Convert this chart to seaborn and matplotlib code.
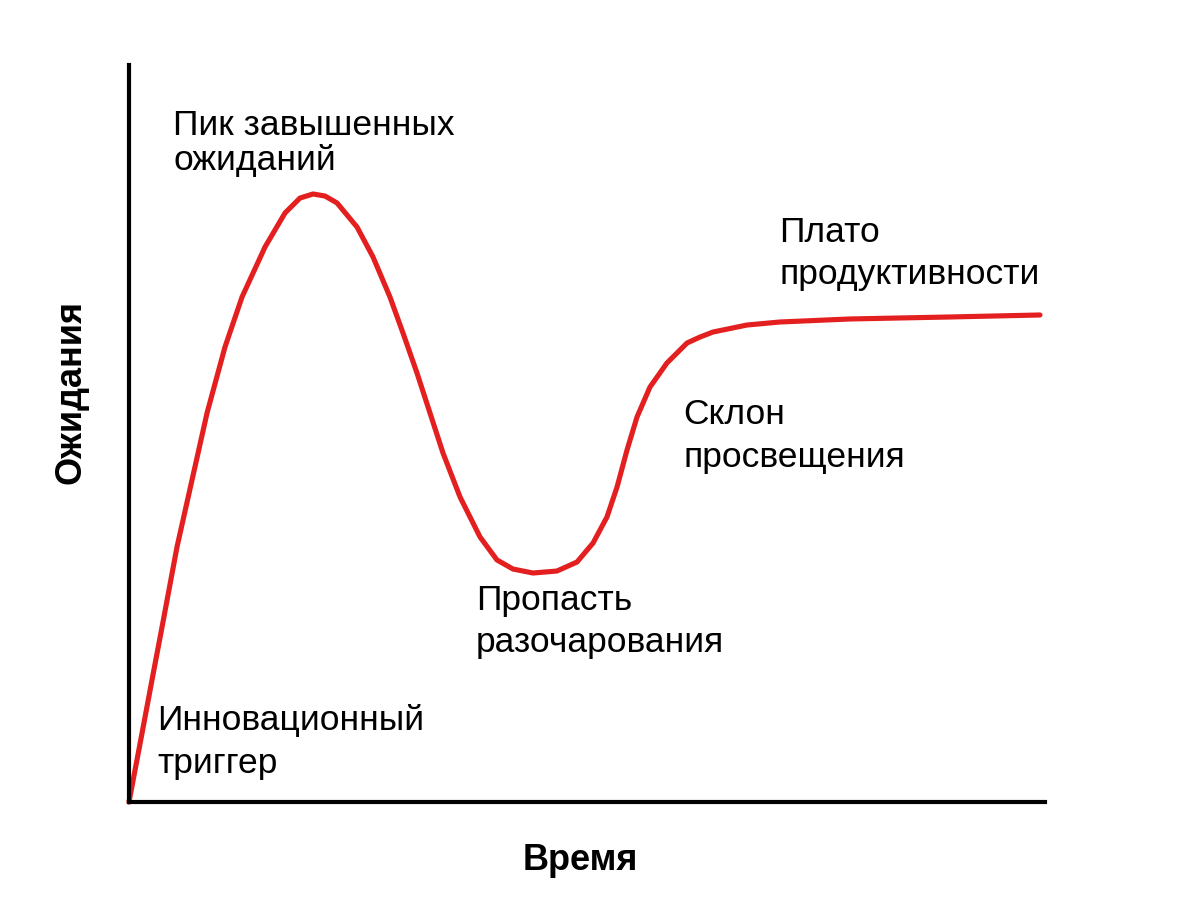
import numpy as np
import pandas as pd
import matplotlib
matplotlib.use("Agg")
import matplotlib.pyplot as plt
import seaborn as sns

# Hype-cycle curve (time 0..100, expectations 0..100)
time = [0.00, 1.20, 2.51, 3.71, 5.24, 6.88, 8.52, 10.48, 12.34, 14.85, 17.03,
        18.67, 20.09, 21.40, 22.71, 24.89, 26.64, 28.49, 29.91, 31.44, 32.86,
        34.28, 36.14, 38.32, 40.17, 41.92, 44.10, 46.72, 48.91, 50.66, 52.18,
        53.28, 54.37, 55.46, 56.88, 58.73, 60.92, 62.34, 63.76, 67.47, 71.07,
        78.71, 89.63, 99.45]
expect = [0.00, 7.87, 16.55, 24.42, 34.60, 43.69, 52.78, 61.74, 68.52, 75.31, 79.92,
          81.95, 82.50, 82.22, 81.28, 78.02, 73.95, 68.52, 63.64, 58.21, 52.78,
          47.35, 41.38, 35.96, 32.84, 31.61, 31.07, 31.34, 32.56, 35.14, 38.67,
          42.74, 47.76, 52.24, 56.31, 59.57, 62.28, 63.09, 63.77, 64.72, 65.13,
          65.54, 65.81, 66.08]

phase_lines = ["Пик завышенных", "ожиданий",
               "Плато", "продуктивности",
               "Склон", "просвещения",
               "Пропасть", "разочарования",
               "Инновационный", "триггер"]
x_label = "Время"
y_label = "Ожидания"

W, H = 1182, 921
sns.set_theme(style="white")
plt.rcParams['font.family'] = ['Liberation Sans', 'DejaVu Sans']

fig = plt.figure(figsize=(W / 100, H / 100), dpi=100)
fig.patch.set_facecolor("white")
ax = fig.add_axes([129 / W, 119 / H, 916 / W, 737 / H])

df = pd.DataFrame({"t": time, "e": expect})
sns.lineplot(data=df, x="t", y="e", ax=ax, color="#e3201f", linewidth=3.7,
             estimator=None, sort=False, solid_joinstyle="round",
             solid_capstyle="round", clip_on=False)

ax.set_xlim(0, 100)
ax.set_ylim(0, 100)
ax.set_xticks([])
ax.set_yticks([])
ax.set_xlabel("")
ax.set_ylabel("")
for s in ["top", "right"]:
    ax.spines[s].set_visible(False)
for s in ["left", "bottom"]:
    ax.spines[s].set_color("black")
    ax.spines[s].set_linewidth(3)
ax.set_facecolor("white")

# label placement (left edge, baseline) in pixels
pos = [(173, 135), (173, 170), (779, 242), (779, 284), (683, 424), (683, 467),
       (476, 610), (476, 652), (157, 730), (157, 773)]
for txt, (px, py) in zip(phase_lines, pos):
    fig.text(px / W, 1 - py / H, txt, ha="left", va="baseline",
             fontsize=25.5, color="black")

fig.text(580 / W, 1 - 860 / H, x_label, ha="center", va="center",
         fontsize=26, fontweight="bold", color="black")
fig.text(71 / W, 1 - 392 / H, y_label, ha="center", va="center", rotation=90,
         fontsize=26, fontweight="bold", color="black")

fig.savefig("out.png", dpi=100, facecolor="white")
